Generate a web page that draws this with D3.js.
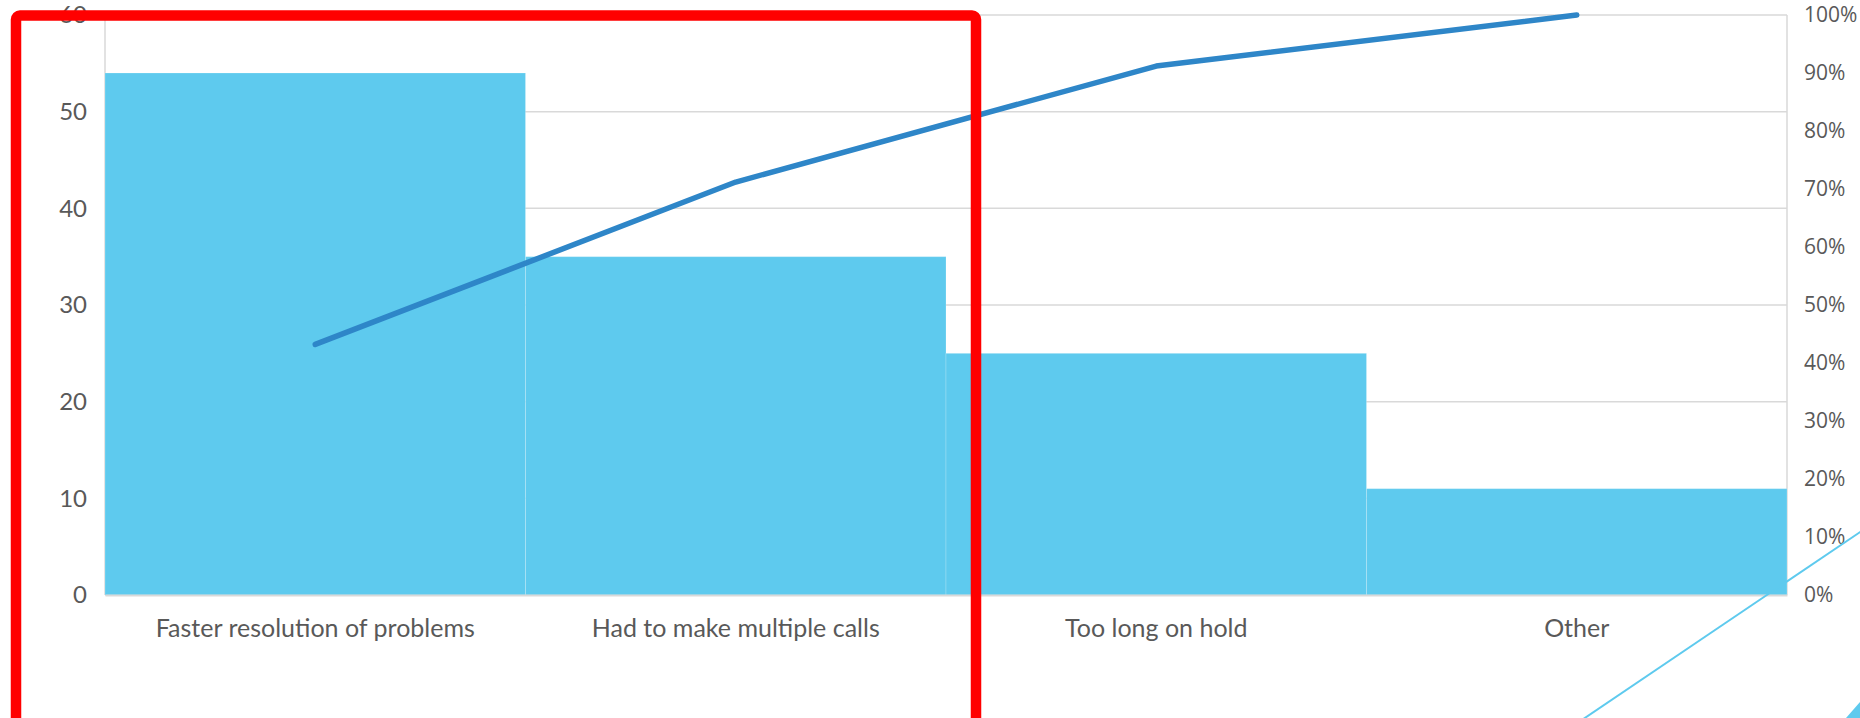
<!DOCTYPE html>
<html lang="en">
<head>
<meta charset="utf-8">
<title>Pareto - reasons for complaints</title>
<style>
  body { margin: 0; background: #fff; }
  svg { display: block; }
  .tick-label { fill: #595959; }
</style>
</head>
<body>
<script src="https://d3js.org/d3.v7.min.js"></script>
<script>
  // data
  const categories = ["Faster resolution of problems", "Had to make multiple calls", "Too long on hold", "Other"];
  const counts = [54, 35, 25, 11];
  const cumulative = [0.432, 0.712, 0.912, 1.0];
  const countTicks = [0, 10, 20, 30, 40, 50, 60];
  const pctTicks = [0, 0.1, 0.2, 0.3, 0.4, 0.5, 0.6, 0.7, 0.8, 0.9, 1.0];

  const W = 1860, H = 718;
  const plotLeft = 105, plotRight = 1787, plotTop = 15, plotBottom = 595;

  const svg = d3.select("body").append("svg")
      .attr("width", W)
      .attr("height", H);

  const x = d3.scaleBand()
      .domain(categories)
      .range([plotLeft, plotRight])
      .padding(0);
  const y = d3.scaleLinear()
      .domain([0, 60])
      .range([plotBottom, plotTop]);
  const y2 = d3.scaleLinear()
      .domain([0, 1])
      .range([plotBottom, plotTop]);

  // gridlines
  svg.append("g")
      .selectAll("line")
      .data(countTicks)
      .join("line")
      .attr("x1", plotLeft)
      .attr("x2", plotRight)
      .attr("y1", d => y(d))
      .attr("y2", d => y(d))
      .attr("stroke", "#d9d9d9")
      .attr("stroke-width", 1.5);

  // side frame lines
  svg.append("line")
      .attr("x1", plotLeft).attr("x2", plotLeft)
      .attr("y1", plotTop).attr("y2", plotBottom)
      .attr("stroke", "#d9d9d9").attr("stroke-width", 1.5);
  svg.append("line")
      .attr("x1", plotRight).attr("x2", plotRight)
      .attr("y1", plotTop).attr("y2", plotBottom)
      .attr("stroke", "#d9d9d9").attr("stroke-width", 1.5);

  // bars
  svg.append("g")
      .selectAll("rect")
      .data(categories)
      .join("rect")
      .attr("x", d => x(d))
      .attr("y", (d, i) => y(counts[i]))
      .attr("width", x.bandwidth())
      .attr("height", (d, i) => plotBottom - y(counts[i]))
      .attr("fill", "#5ecaee")
      .attr("stroke", "rgba(255,255,255,0.2)")
      .attr("stroke-width", 1);

  // left axis
  const leftAxis = d3.axisLeft(y).tickValues(countTicks).tickSize(0).tickPadding(18);
  svg.append("g")
      .attr("transform", "translate(" + plotLeft + ",0)")
      .call(leftAxis)
      .call(g => g.select(".domain").remove())
      .selectAll("text")
      .attr("class", "tick-label")
      .style("font-family", "Lato, 'DejaVu Sans', sans-serif")
      .style("font-size", "24px");

  // right axis
  const rightAxis = d3.axisRight(y2).tickValues(pctTicks).tickSize(0).tickPadding(17)
      .tickFormat(d3.format(".0%"));
  svg.append("g")
      .attr("transform", "translate(" + plotRight + ",0)")
      .call(rightAxis)
      .call(g => g.select(".domain").remove())
      .selectAll("text")
      .attr("class", "tick-label")
      .style("font-family", "'Open Sans', sans-serif")
      .style("font-size", "21px");

  // bottom axis
  const bottomAxis = d3.axisBottom(x).tickSize(0).tickPadding(24);
  svg.append("g")
      .attr("transform", "translate(0," + plotBottom + ")")
      .call(bottomAxis)
      .call(g => g.select(".domain").attr("stroke", "#d9d9d9").attr("stroke-width", 2))
      .selectAll("text")
      .attr("class", "tick-label")
      .style("font-family", "Lato, 'DejaVu Sans', sans-serif")
      .style("font-size", "25px");

  // cumulative line
  const line = d3.line()
      .x((d, i) => x(categories[i]) + x.bandwidth() / 2)
      .y(d => y2(d));
  svg.append("path")
      .datum(cumulative)
      .attr("d", line)
      .attr("fill", "none")
      .attr("stroke", "#2e86c8")
      .attr("stroke-width", 5.5)
      .attr("stroke-linecap", "round")
      .attr("stroke-linejoin", "round");

  // slide decoration at bottom right
  svg.append("line")
      .attr("x1", 1570).attr("y1", 728)
      .attr("x2", 1875).attr("y2", 522)
      .attr("stroke", "#5ecaee")
      .attr("stroke-width", 2);
  svg.append("path")
      .attr("d", "M1846,718L1860,702L1860,718Z")
      .attr("fill", "#5ecaee");

  // red highlight box
  svg.append("rect")
      .attr("x", 16)
      .attr("y", 15.5)
      .attr("width", 960)
      .attr("height", 714)
      .attr("rx", 4)
      .attr("fill", "none")
      .attr("stroke", "#ff0000")
      .attr("stroke-width", 10.5);
</script>
</body>
</html>
